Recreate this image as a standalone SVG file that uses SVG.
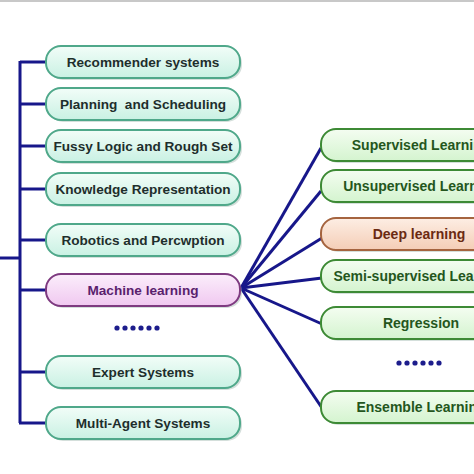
<svg xmlns="http://www.w3.org/2000/svg" width="474" height="474" viewBox="0 0 474 474">
<defs>
<linearGradient id="gL" x1="0" y1="0" x2="0" y2="1"><stop offset="0" stop-color="#f2fdf8"/><stop offset="1" stop-color="#c9f1e3"/></linearGradient>
<linearGradient id="gM" x1="0" y1="0" x2="0" y2="1"><stop offset="0" stop-color="#fbeefb"/><stop offset="1" stop-color="#f0c8f0"/></linearGradient>
<linearGradient id="gR" x1="0" y1="0" x2="0" y2="1"><stop offset="0" stop-color="#f4fdf1"/><stop offset="1" stop-color="#d4f4cf"/></linearGradient>
<linearGradient id="gD" x1="0" y1="0" x2="0" y2="1"><stop offset="0" stop-color="#fdeee4"/><stop offset="1" stop-color="#f4cdb6"/></linearGradient>
</defs>
<style>
text{font-family:"Liberation Sans",Arial,sans-serif;font-weight:bold;font-size:13.6px;text-anchor:middle;dominant-baseline:central}
.r text,.d text{font-size:14px}
.l rect.b{fill:url(#gL);stroke:#4fa88a;stroke-width:2}
.l text{fill:#1e2e2c}
.m rect.b{fill:url(#gM);stroke:#7e3a80;stroke-width:2}
.m text{fill:#5a1f6e}
.r rect.b{fill:url(#gR);stroke:#3d8a35;stroke-width:2}
.r text{fill:#24561d}
.d rect.b{fill:url(#gD);stroke:#a5643f;stroke-width:2}
.d text{fill:#6b2a12}
rect.s{fill:#9fb8b0;opacity:0.45}
.c line{stroke:#17178a;stroke-width:3;fill:none}
.dots circle{fill:#1d1d8c}
</style>
<rect x="0" y="0" width="474" height="474" fill="#ffffff"/>
<rect x="0" y="0" width="474" height="2" fill="#c8c8c8"/>
<g class="c" id="connectors">
<line x1="20" y1="61" x2="20" y2="423"/>
<line x1="0" y1="258" x2="20" y2="258"/>
<line x1="20" y1="62" x2="47" y2="62"/>
<line x1="20" y1="104" x2="47" y2="104"/>
<line x1="20" y1="146" x2="47" y2="146"/>
<line x1="20" y1="189" x2="47" y2="189"/>
<line x1="20" y1="240" x2="47" y2="240"/>
<line x1="20" y1="290" x2="47" y2="290"/>
<line x1="20" y1="372" x2="47" y2="372"/>
<line x1="19" y1="423" x2="47" y2="423"/>
<line x1="241" y1="288" x2="321" y2="148"/>
<line x1="241" y1="288" x2="321" y2="191"/>
<line x1="241" y1="288" x2="322" y2="238"/>
<line x1="241" y1="288" x2="322" y2="278"/>
<line x1="241" y1="288" x2="322" y2="324"/>
<line x1="241" y1="288" x2="322" y2="408"/>
</g>
<g id="n1" class="l"><rect class="s" x="48" y="48" width="194" height="32" rx="15"/><rect class="b" x="46" y="46" width="194" height="32" rx="15"/><text x="143" y="62">Recommender systems</text></g>
<g id="n2" class="l"><rect class="s" x="48" y="90" width="194" height="32" rx="15"/><rect class="b" x="46" y="88" width="194" height="32" rx="15"/><text x="143" y="104" xml:space="preserve">Planning  and Scheduling</text></g>
<g id="n3" class="l"><rect class="s" x="48" y="132" width="194" height="32" rx="15"/><rect class="b" x="46" y="130" width="194" height="32" rx="15"/><text x="143" y="146">Fussy Logic and Rough Set</text></g>
<g id="n4" class="l"><rect class="s" x="48" y="175" width="194" height="32" rx="15"/><rect class="b" x="46" y="173" width="194" height="32" rx="15"/><text x="143" y="189">Knowledge Representation</text></g>
<g id="n5" class="l"><rect class="s" x="48" y="226" width="194" height="32" rx="15"/><rect class="b" x="46" y="224" width="194" height="32" rx="15"/><text x="143" y="240">Robotics and Percwption</text></g>
<g id="n6" class="m"><rect class="s" x="48" y="276" width="194" height="32" rx="15"/><rect class="b" x="46" y="274" width="194" height="32" rx="15"/><text x="143" y="290">Machine learning</text></g>
<g id="dotsL" class="dots"><circle cx="117" cy="328" r="2.6"/><circle cx="125" cy="328" r="2.6"/><circle cx="133" cy="328" r="2.6"/><circle cx="141" cy="328" r="2.6"/><circle cx="149" cy="328" r="2.6"/><circle cx="157" cy="328" r="2.6"/></g>
<g id="n7" class="l"><rect class="s" x="48" y="358" width="194" height="32" rx="15"/><rect class="b" x="46" y="356" width="194" height="32" rx="15"/><text x="143" y="372">Expert Systems</text></g>
<g id="n8" class="l"><rect class="s" x="48" y="409" width="194" height="32" rx="15"/><rect class="b" x="46" y="407" width="194" height="32" rx="15"/><text x="143" y="423">Multi-Agent Systems</text></g>
<g id="r1" class="r"><rect class="s" x="323" y="131" width="200" height="32" rx="15"/><rect class="b" x="321" y="129" width="200" height="32" rx="15"/><text x="421" y="145">Supervised Learning</text></g>
<g id="r2" class="r"><rect class="s" x="323" y="172" width="200" height="32" rx="15"/><rect class="b" x="321" y="170" width="200" height="32" rx="15"/><text x="421" y="186">Unsupervised Learning</text></g>
<g id="r3" class="d"><rect class="s" x="323" y="220" width="200" height="32" rx="15"/><rect class="b" x="321" y="218" width="200" height="32" rx="15"/><text x="419" y="234">Deep learning</text></g>
<g id="r4" class="r"><rect class="s" x="323" y="262" width="200" height="32" rx="15"/><rect class="b" x="321" y="260" width="200" height="32" rx="15"/><text x="421" y="276">Semi-supervised Learning</text></g>
<g id="r5" class="r"><rect class="s" x="323" y="309" width="200" height="32" rx="15"/><rect class="b" x="321" y="307" width="200" height="32" rx="15"/><text x="421" y="323">Regression</text></g>
<g id="dotsR" class="dots"><circle cx="399" cy="363" r="2.6"/><circle cx="407" cy="363" r="2.6"/><circle cx="415" cy="363" r="2.6"/><circle cx="423" cy="363" r="2.6"/><circle cx="431" cy="363" r="2.6"/><circle cx="439" cy="363" r="2.6"/></g>
<g id="r6" class="r"><rect class="s" x="323" y="393" width="200" height="32" rx="15"/><rect class="b" x="321" y="391" width="200" height="32" rx="15"/><text x="421" y="407">Ensemble Learning</text></g>
</svg>
